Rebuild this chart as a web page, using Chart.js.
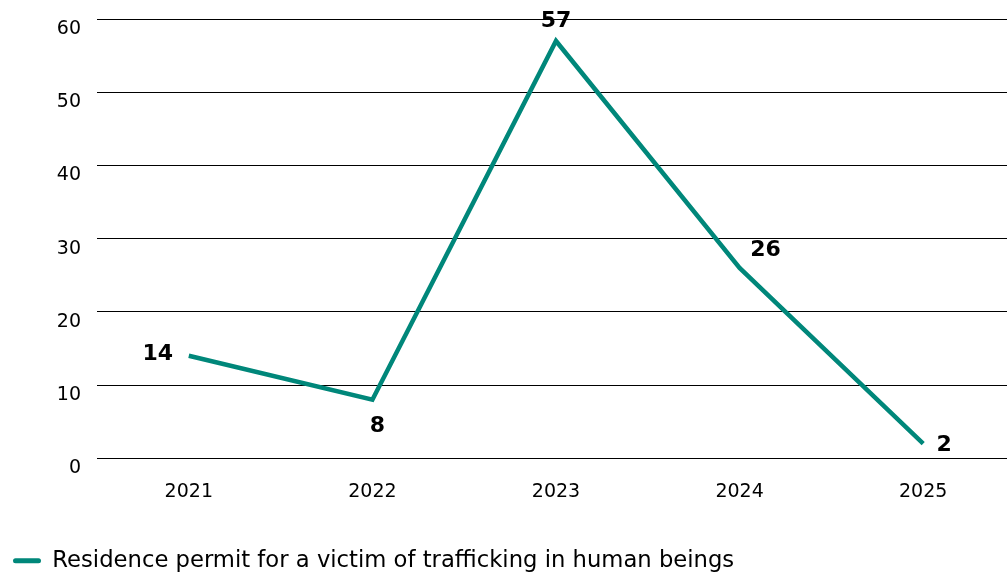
<!DOCTYPE html>
<html>
<head>
<meta charset="utf-8">
<script src="https://cdn.jsdelivr.net/npm/chart.js@4"></script>
<style>
  html, body { margin: 0; padding: 0; background: #fff; }
  #wrap { width: 1007px; height: 573px; overflow: hidden; }
</style>
</head>
<body>
<div id="wrap"><canvas id="myChart" width="1015" height="582"></canvas></div>
<script>
const years = ["2021", "2022", "2023", "2024", "2025"];
const permits = [14, 8, 57, 26, 2];
const yTicks = [0, 10, 20, 30, 40, 50, 60];
const seriesName = "Residence permit for a victim of trafficking in human beings";
// where each value label sits relative to its point
const labelPos = ["left", "below", "above", "aboveRight", "right"];

const teal = "#00877a";
const fam = "DejaVu Sans, Verdana, sans-serif";

// draw the bold numbers next to each point
const valueLabels = {
  id: "valueLabels",
  afterDatasetsDraw(chart) {
    const ctx = chart.ctx;
    const meta = chart.getDatasetMeta(0);
    ctx.save();
    ctx.font = "bold 22px " + fam;
    ctx.fillStyle = "#000";
    ctx.textBaseline = "middle";
    meta.data.forEach((pt, i) => {
      let x = pt.x, y = pt.y;
      ctx.textAlign = "center";
      switch (labelPos[i]) {
        case "left": x -= 31; y -= 2; break;
        case "below": x += 5; y += 27; break;
        case "above": y -= 20; break;
        case "aboveRight": x += 26; y -= 18; break;
        case "right": x += 21; y += 2; break;
      }
      ctx.fillText(String(permits[i]), x, y);
    });
    ctx.restore();
  }
};

const config = {
  type: "line",
  data: {
    labels: years,
    datasets: [{
      label: seriesName,
      data: permits,
      borderColor: teal,
      backgroundColor: teal,
      borderWidth: 4.5,
      pointRadius: 0,
      tension: 0
    }]
  },
  options: {
    responsive: false,
    animation: false,
    layout: { padding: { top: 19, right: 0, bottom: 0, left: 11 } },
    plugins: {
      legend: {
        position: "bottom",
        align: "start",
        labels: {
          font: { family: fam, size: 22.7 },
          color: "#000",
          boxWidth: 28,
          boxHeight: 5,
          useBorderRadius: true,
          borderRadius: 2.5,
          padding: 2,
          generateLabels(chart) {
            return [{
              text: seriesName,
              fillStyle: teal,
              strokeStyle: teal,
              lineWidth: 0,
              borderRadius: 2.5,
              datasetIndex: 0
            }];
          }
        }
      },
      tooltip: { enabled: false }
    },
    scales: {
      x: {
        offset: true,
        grid: { display: false, drawTicks: false },
        border: { display: false },
        ticks: {
          color: "#000",
          font: { family: fam, size: 19 },
          padding: 22
        },
        afterFit(scale) { scale.height = 89; }
      },
      y: {
        min: 0,
        max: 60,
        afterBuildTicks(scale) { scale.ticks = yTicks.map(v => ({ value: v })); },
        grid: { color: "#000", lineWidth: 1, drawTicks: false },
        border: { display: false },
        ticks: {
          color: "#000",
          font: { family: fam, size: 19 },
          padding: 16,
          labelOffset: 10
        },
        afterFit(scale) {
          scale.width = 86;
          scale.paddingTop = 0;
          scale.paddingBottom = 0;
        }
      }
    }
  },
  plugins: [valueLabels]
};

new Chart(document.getElementById("myChart"), config);
</script>
</body>
</html>
